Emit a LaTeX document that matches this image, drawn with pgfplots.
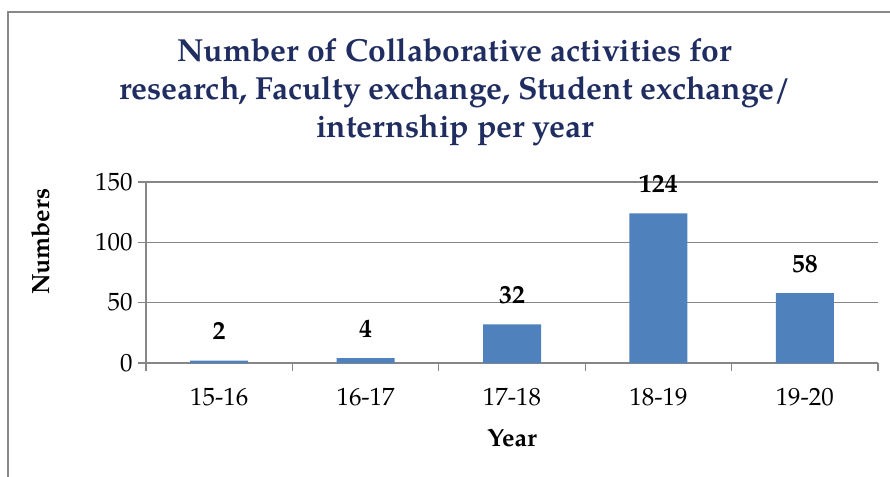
\documentclass[border=0pt]{standalone}
\usepackage{pgfplots}
\pgfplotsset{compat=1.18}
\usepackage{fontspec}
\setmainfont{texgyrepagella}[Extension=.otf, UprightFont=*-regular, BoldFont=*-bold, ItalicFont=*-italic, BoldItalicFont=*-bolditalic]
\definecolor{titleblue}{RGB}{31,45,96}
\definecolor{barblue}{RGB}{79,129,189}
\definecolor{gridgray}{RGB}{134,134,134}
\definecolor{framegray}{RGB}{136,136,136}
\begin{document}
\begin{tikzpicture}
\useasboundingbox (0bp,0bp) rectangle (890bp,477bp);
\draw[framegray, line width=2bp] (8bp,0bp) -- (8bp,465bp) -- (892bp,465bp);
\node[font=\fontsize{32}{38}\selectfont\bfseries, text=titleblue, align=center] at (455bp,385bp)
  {Number of Collaborative activities for\\research, Faculty exchange, Student exchange/\\internship per year};
\begin{axis}[
  at={(146bp,114bp)}, anchor=south west,
  scale only axis, width=732bp, height=181bp,
  xmin=-0.5, xmax=4.5, ymin=0, ymax=150,
  axis x line=bottom, axis y line=left,
  axis line style={gridgray, line width=1.2bp, -},
  ytick={0,50,100,150},
  ymajorgrids, grid style={gridgray, line width=1.2bp},
  xtick={0,1,2,3,4},
  xticklabels={15-16,16-17,17-18,18-19,19-20},
  major x tick style={draw=none},
  minor xtick={-0.5,0.5,1.5,2.5,3.5,4.5},
  minor x tick style={gridgray, line width=1.2bp},
  major y tick style={gridgray, line width=1.2bp},
  tick align=outside, major tick length=8bp, minor tick length=8bp,
  tick label style={font=\fontsize{25}{28}\selectfont},
  /pgf/number format/assume math mode=true,
  xticklabel style={yshift=-14bp},
  yticklabel style={xshift=-2bp},
  xlabel={\textbf{Year}}, ylabel={\textbf{Numbers}},
  label style={font=\fontsize{25}{28}\selectfont},
  ylabel style={at={(ticklabel cs:0.67)}, yshift=38bp},
  xlabel style={yshift=-16bp},
  ybar, bar width=58bp,
  nodes near coords,
  every node near coord/.append style={font=\fontsize{26}{28}\selectfont\bfseries, text=black, yshift=17bp},
  clip=false,
]
\addplot[fill=barblue, draw=none] coordinates {(0,2) (1,4) (2,32) (3,124) (4,58)};
\end{axis}
\end{tikzpicture}
\end{document}
